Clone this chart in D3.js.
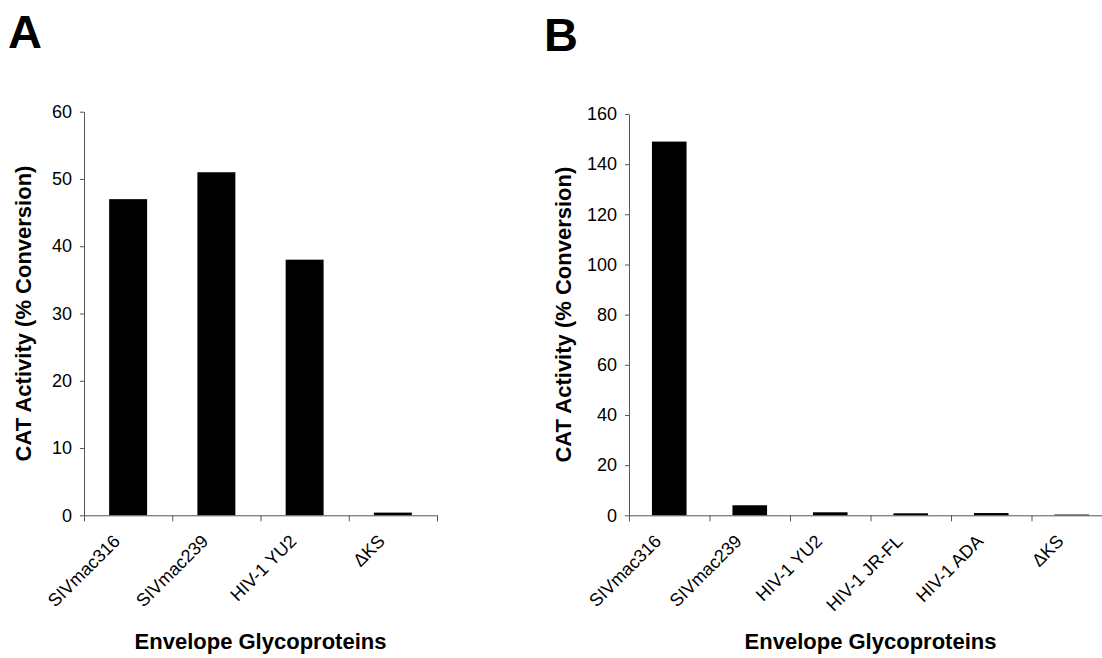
<!DOCTYPE html>
<html>
<head>
<meta charset="utf-8">
<script src="https://cdn.jsdelivr.net/npm/d3@7"></script>
<style>
  body { margin: 0; background: #fff; }
  svg { display: block; font-family: "Liberation Sans", Arial, sans-serif; }
  .axis path, .axis line { stroke: #555; }
</style>
</head>
<body>
<svg id="chart" width="1102" height="658"></svg>
<script>
// panel A data
let categoriesA = ["SIVmac316", "SIVmac239", "HIV-1 YU2", "\u0394KS"];
let valuesA = [47, 51, 38, 0.4];
let yTicksA = [0, 10, 20, 30, 40, 50, 60];

// panel B data
let categoriesB = ["SIVmac316", "SIVmac239", "HIV-1 YU2", "HIV-1 JR-FL", "HIV-1 ADA", "\u0394KS"];
let valuesB = [149, 4, 1.2, 0.8, 0.9, 0.3];
let yTicksB = [0, 20, 40, 60, 80, 100, 120, 140, 160];

let yTitle = "CAT Activity (% Conversion)";
let xTitle = "Envelope Glycoproteins";

let svg = d3.select("#chart");

function drawPanel(opts) {
    let g = svg.append("g");
    let n = opts.categories.length;

    let x = d3.scaleBand()
        .domain(opts.categories)
        .range([opts.left, opts.right])
        .paddingInner(0.57)
        .paddingOuter(0.285);
    let y = d3.scaleLinear()
        .domain([0, opts.yMax])
        .range([opts.bottom, opts.top]);
    // category boundaries for the tick marks
    let xb = d3.scaleLinear().domain([0, n]).range([opts.left, opts.right]);

    // bars
    g.selectAll(".bar")
        .data(opts.values)
        .enter().append("rect")
        .attr("class", "bar")
        .attr("x", (d, i) => x(opts.categories[i]))
        .attr("width", x.bandwidth())
        .attr("y", d => y(d))
        .attr("height", d => opts.bottom - y(d))
        .attr("fill", "#000");

    // y axis
    let yAxis = g.append("g")
        .attr("class", "axis")
        .attr("transform", "translate(" + opts.left + ",0)")
        .call(d3.axisLeft(y).tickValues(opts.yTicks).tickSize(4).tickSizeOuter(0).tickPadding(8));
    yAxis.selectAll("text")
        .attr("font-size", 18)
        .attr("font-family", "'Liberation Sans', Arial, sans-serif")
        .attr("fill", "#000");

    // x axis (ticks between categories)
    let xAxis = g.append("g")
        .attr("class", "axis")
        .attr("transform", "translate(0," + opts.bottom + ")")
        .call(d3.axisBottom(xb).tickValues(d3.range(n + 1)).tickSize(6).tickSizeOuter(0).tickFormat(""));

    // rotated category labels
    g.selectAll(".cat")
        .data(opts.categories)
        .enter().append("text")
        .attr("class", "cat")
        .attr("text-anchor", "end")
        .attr("font-size", 18)
        .attr("transform", d => "translate(" + (x(d) + x.bandwidth() / 2 - 7) + "," + (opts.bottom + 27) + ") rotate(-45)")
        .text(d => d);

    // axis titles
    g.append("text")
        .attr("text-anchor", "middle")
        .attr("font-size", 22)
        .attr("font-weight", "bold")
        .attr("transform", "translate(" + opts.yTitleX + "," + ((opts.top + opts.bottom) / 2) + ") rotate(-90)")
        .text(yTitle);
    g.append("text")
        .attr("text-anchor", "middle")
        .attr("font-size", 22)
        .attr("font-weight", "bold")
        .attr("x", (opts.left + opts.right) / 2)
        .attr("y", 649)
        .text(xTitle);

    // panel letter
    g.append("text")
        .attr("font-size", 47)
        .attr("font-weight", "bold")
        .attr("x", opts.letterX)
        .attr("y", opts.letterY)
        .text(opts.letter);
}

drawPanel({
    categories: categoriesA, values: valuesA, yTicks: yTicksA, yMax: 60,
    left: 84, right: 437, top: 111.7, bottom: 515.3,
    yTitleX: 31, letter: "A", letterX: 8, letterY: 48
});
drawPanel({
    categories: categoriesB, values: valuesB, yTicks: yTicksB, yMax: 160,
    left: 629, right: 1112, top: 114, bottom: 515.3,
    yTitleX: 571, letter: "B", letterX: 544, letterY: 51
});
</script>
</body>
</html>
